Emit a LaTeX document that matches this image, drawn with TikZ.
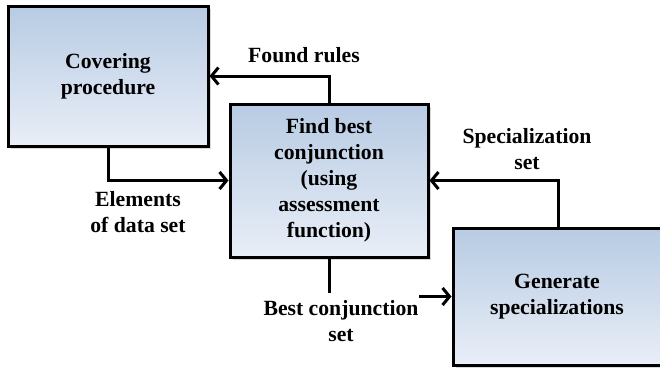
\documentclass[tikz,border=0pt]{standalone}
\usepackage{fontspec}
\setmainfont{Liberation Serif}
\usetikzlibrary{arrows.meta,shadows}
\definecolor{boxtop}{HTML}{B7CBE3}
\definecolor{boxbot}{HTML}{E9EEF7}
\begin{document}
\begin{tikzpicture}[x=1pt,y=-1pt,
  txt/.style={font=\fontsize{21.7}{26}\selectfont\bfseries, align=center},
  box/.style={txt, draw=black, line width=3pt, top color=boxtop, bottom color=boxbot,
    inner sep=0pt, drop shadow={shadow xshift=2.5pt, shadow yshift=-2.5pt, opacity=0.3, fill=gray}},
  lbl/.style={txt, inner sep=0pt},
  conn/.style={line width=3pt, -{Straight Barb[length=7pt,width=17pt,line width=3pt]}}]
\useasboundingbox (0,0) rectangle (660,367);
\clip (0,0) rectangle (660,367);
\node[box, minimum width=200pt, minimum height=140pt] (b1) at (108,76) {Covering\\procedure};
\node[box, minimum width=198pt, minimum height=153pt] (b2) at (329,180.5) {Find best\\conjunction\\(using\\assessment\\function)};
\node[box, minimum width=226pt, minimum height=137pt] (b3) at (566,296.5) {\hspace*{-18pt}Generate\\\hspace*{-18pt}specializations};
\draw[conn] (b2.north) |- (b1.east);
\draw[conn] (b1.south) |- (b2.west);
\draw[conn] ([xshift=-8pt]b3.north) |- (b2.east);
\draw[conn] (b2.south) |- (b3.west);
\node[lbl, anchor=base] (l1) at (304,62) {Found rules};
\node[lbl, anchor=north] (l2) at (138,191.5) {Elements\\of data set};
\node[lbl, anchor=north] (l3) at (527,128.5) {Specialization\\set};
\node[lbl, anchor=north, fill=white, inner xsep=1pt, inner ysep=7.6pt] (l4) at (341,293) {Best conjunction\\set};
\end{tikzpicture}
\end{document}
